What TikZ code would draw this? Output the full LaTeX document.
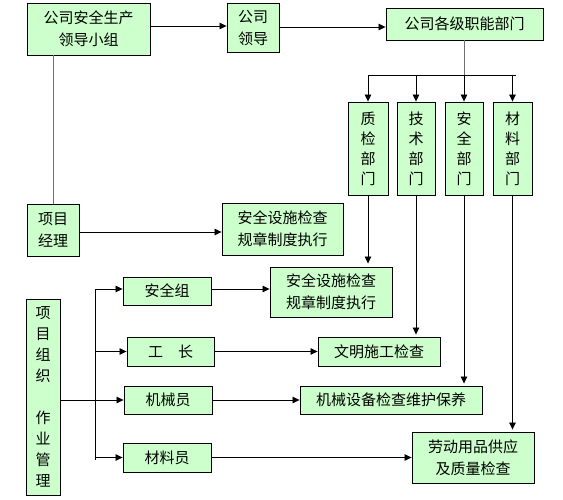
\documentclass[tikz,border=0pt]{standalone}
\usepackage{fontspec}
\newfontfamily\cjk{Noto Sans CJK SC}
\usetikzlibrary{arrows.meta,calc}
\definecolor{boxgreen}{HTML}{CCFFCC}
\definecolor{linegray}{HTML}{707070}
\tikzset{
  box/.style={draw=black, line width=0.9pt, fill=boxgreen, inner sep=0pt, align=center,
    font=\cjk\fontsize{15}{22}\selectfont},
  vbox/.style={box, font=\cjk\fontsize{15}{20}\selectfont},
  conn/.style={line width=0.8pt, draw=black},
  arr/.style={conn, -{Triangle[length=7pt,width=6.5pt]}},
}
\begin{document}
\begin{tikzpicture}[x=1pt,y=-1pt]
\useasboundingbox (0,0) rectangle (563,500);
% top row
\node[box, minimum width=123pt, minimum height=52pt] (b1) at (88.5,29) {公司安全生产\\领导小组};
\node[box, minimum width=52pt, minimum height=49pt] (b2) at (253,27.5) {公司\\领导};
\node[box, minimum width=157pt, minimum height=32pt] (b3) at (464.5,24) {公司各级职能部门};
% departments
\node[vbox, minimum width=40pt, minimum height=93pt] (d1) at (368,148.5) {质\\检\\部\\门};
\node[vbox, minimum width=38pt, minimum height=93pt] (d2) at (416,148.5) {技\\术\\部\\门};
\node[vbox, minimum width=38pt, minimum height=93pt] (d3) at (464,148.5) {安\\全\\部\\门};
\node[vbox, minimum width=39pt, minimum height=93pt] (d4) at (512.5,148.5) {材\\料\\部\\门};
% project manager row
\node[box, minimum width=52pt, minimum height=52pt] (pm) at (53,230) {项目\\经理};
\node[box, minimum width=121pt, minimum height=52pt] (s1) at (282.5,229) {安全设施检查\\规章制度执行};
% lower part
\node[box, minimum width=122pt, minimum height=50pt] (s2) at (331,292) {安全设施检查\\规章制度执行};
\node[vbox, font=\cjk\fontsize{15}{21}\selectfont, minimum width=34pt, minimum height=196pt] (org) at (43,397) {项\\目\\组\\织\\[21pt]作\\业\\管\\理};
\node[box, minimum width=88pt, minimum height=28pt] (aqz) at (167,291) {安全组};
\node[box, minimum width=87pt, minimum height=29pt] (gz) at (170.5,351.5) {工\hspace{1em}长};
\node[box, minimum width=88pt, minimum height=28pt] (jxy) at (168,400) {机械员};
\node[box, minimum width=88pt, minimum height=29pt] (cly) at (167,457.5) {材料员};
\node[box, minimum width=122pt, minimum height=29pt] (wm) at (379,351.5) {文明施工检查};
\node[box, minimum width=182pt, minimum height=28pt] (jx) at (391,400) {机械设备检查维护保养};
\node[box, minimum width=122pt, minimum height=51pt] (ld) at (473,457.5) {劳动用品供应\\及质量检查};
% coordinates
\coordinate (barR) at (516,75);
\coordinate (busb) at (95,460);
% top connectors
\draw[arr] (b1.east |- 0,26) -- (b2.west |- 0,26);
\draw[arr] (b2.east |- 0,27) -- (b3.west |- 0,27);
\draw[conn, draw=linegray] (b3.south -| d3.north) -- (d3.north |- barR);
\draw[arr] (d3.north |- barR) -- (d3.north);
\draw[arr] (barR) -| (d1.north);
\draw[arr] (d2.north |- barR) -- (d2.north);
\draw[arr] (d4.north |- barR) -- (d4.north);
\draw[conn, draw=linegray] (b1.south -| pm.north) -- (pm.north);
\draw[arr] (pm.east |- 0,232) -- (s1.west |- 0,232);
% department down lines
\draw[arr] (d1.south) -- ($(d1.south |- s2.north)+(0,-3)$);
\draw[arr] (d2.south) -- ($(d2.south |- wm.north)+(0,-2)$);
\draw[arr] (d3.south) -- ($(d3.south |- jx.north)+(0,-2)$);
\draw[arr] (d4.south) -- ($(d4.south |- ld.north)+(0,-2)$);
% bus
\draw[arr] (busb) |- (aqz.west |- 0,289);
\draw[arr] (gz.west -| busb) -- (gz.west);
\draw[arr] (cly.west -| busb) -- (cly.west);
\draw[arr] (org.east |- jxy.west) -- (jxy.west);
% right arrows
\draw[arr] (aqz.east |- 0,289) -- (s2.west |- 0,289);
\draw[arr] (gz.east) -- (wm.west |- gz.east);
\draw[arr] (jxy.east) -- (jx.west |- jxy.east);
\draw[arr] (cly.east) -- (ld.west |- cly.east);
\end{tikzpicture}
\end{document}
